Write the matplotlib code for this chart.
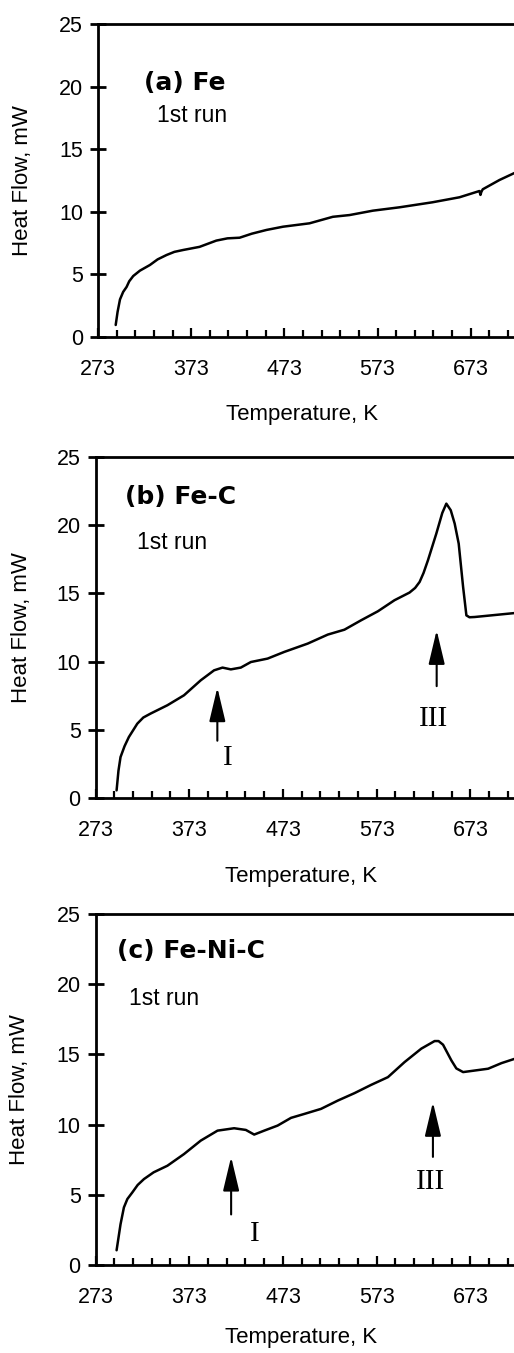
import matplotlib
matplotlib.use("Agg")
import matplotlib.pyplot as plt

# panel (a) Fe
temp_fe = [292, 294, 296.6, 300, 303.7, 306.5, 310.8, 318, 328.7, 337, 346.6, 355, 364.4,
           382, 400, 412, 425, 438, 453.8, 471.6, 500, 525, 543, 568, 596.7, 632,
           661, 682.4, 683.5, 684.5, 686, 703.9, 720]
heat_fe = [0.96, 2.0, 3.0, 3.6, 4.0, 4.45, 4.87, 5.3, 5.75, 6.2, 6.55, 6.8, 6.95,
           7.2, 7.7, 7.88, 7.93, 8.25, 8.55, 8.81, 9.08, 9.6, 9.74, 10.09, 10.36, 10.76,
           11.16, 11.66, 11.35, 11.6, 11.8, 12.54, 13.1]

# panel (b) Fe-C
temp_fec = [295.5, 297.5, 299.7, 304, 308.6, 317.6, 324, 331.8, 349.7, 367.4, 385.3,
            399.5, 408.5, 417.4, 428, 438.8, 456.6, 474.4, 499.4, 520.8, 538.6,
            556.4, 574.3, 592, 608, 614, 618.8, 623, 627.7, 636.6, 643, 647.3, 652,
            656.2, 660.5, 665.2, 668.7, 672, 677.6, 720.4]
heat_fec = [0.56, 2.0, 3.0, 3.8, 4.47, 5.45, 5.9, 6.19, 6.8, 7.53, 8.63,
            9.36, 9.56, 9.43, 9.56, 9.97, 10.22, 10.71, 11.32, 11.98, 12.34,
            13.03, 13.69, 14.5, 15.06, 15.4, 15.84, 16.5, 17.43, 19.38, 20.9, 21.58, 21.1,
            20.12, 18.65, 15.47, 13.39, 13.25, 13.27, 13.56]

# panel (c) Fe-Ni-C
temp_fenic = [295.5, 299.7, 303.3, 307, 312.3, 318, 324.7, 335, 349.7, 367.4, 385.3,
              403.2, 420.9, 433.4, 442.3, 453, 467.3, 481.6, 495.8, 513.6, 531.5,
              549.3, 567.1, 585, 602.7, 620.6, 634.8, 639, 643.8, 652.7, 658, 665.2,
              691.9, 706.2, 720.4]
heat_fenic = [1.05, 2.9, 4.1, 4.7, 5.17, 5.7, 6.12, 6.6, 7.07, 7.9, 8.86,
              9.57, 9.74, 9.62, 9.29, 9.57, 9.93, 10.48, 10.76, 11.12, 11.71,
              12.24, 12.83, 13.38, 14.45, 15.41, 15.95, 15.95, 15.69, 14.57, 14.0, 13.74,
              13.98, 14.38, 14.69]

x_ticks = [273, 373, 473, 573, 673]
y_ticks = [0, 5, 10, 15, 20, 25]

# arrows: (x, tip, tail, label, label_x, label_y)
arrows_fec = [(403, 8.1, 4.2, "I", 414, 2.9), (637, 12.3, 8.2, "III", 634, 5.8)]
arrows_fenic = [(417.7, 7.7, 3.6, "I", 443, 2.2), (633, 11.6, 7.7, "III", 631, 5.9)]

panels = [
    dict(x=temp_fe, y=heat_fe, title="(a) Fe", arrows=[],
         rect=[98 / 514, 1 - 337 / 1353, 1 - 98 / 514, 313 / 1353],
         tpos=(322, 20.3), rpos=(336, 17.7), ylab=-0.156, xlab=-0.214),
    dict(x=temp_fec, y=heat_fec, title="(b) Fe-C", arrows=arrows_fec,
         rect=[95.5 / 514, 1 - 798 / 1353, 1 - 95.5 / 514, 341 / 1353],
         tpos=(304, 22.1), rpos=(317, 18.7), ylab=-0.152, xlab=-0.2),
    dict(x=temp_fenic, y=heat_fenic, title="(c) Fe-Ni-C", arrows=arrows_fenic,
         rect=[95.5 / 514, 1 - 1265 / 1353, 1 - 95.5 / 514, 351 / 1353],
         tpos=(295.5, 22.4), rpos=(309, 19.0), ylab=-0.157, xlab=-0.177),
]

plt.rcParams['font.family'] = ['Liberation Sans', 'DejaVu Sans']

fig = plt.figure(figsize=(5.14, 13.53), dpi=100)

for p in panels:
    ax = fig.add_axes(p["rect"])
    ax.plot(p["x"], p["y"], color="black", lw=1.8, solid_joinstyle="round",
            solid_capstyle="round")
    ax.set_xlim(273, 719.5)
    ax.set_ylim(0, 25)
    ax.spines["right"].set_visible(False)
    for s in ["left", "bottom", "top"]:
        ax.spines[s].set_linewidth(2.0)
    ax.set_xticks(x_ticks)
    ax.set_xticks(range(293, 720, 20), minor=True)
    ax.set_yticks(y_ticks)
    ax.tick_params(axis="x", which="major", direction="in", length=6.5, width=1.6,
                   pad=16, labelsize=15.5)
    ax.tick_params(axis="x", which="minor", direction="in", length=5, width=1.6)
    ax.tick_params(axis="y", which="major", direction="inout", length=11.5, width=2.0,
                   pad=5, labelsize=15.5)
    ax.set_ylabel("Heat Flow, mW", fontsize=16)
    ax.yaxis.set_label_coords(p["ylab"], 0.5)
    ax.set_xlabel("Temperature, K", fontsize=16)
    ax.xaxis.set_label_coords(0.49, p["xlab"])

    ax.text(p["tpos"][0], p["tpos"][1], p["title"], fontsize=18, fontweight="bold",
            family="DejaVu Sans", va="center", ha="left")
    ax.text(p["rpos"][0], p["rpos"][1], "1st run", fontsize=16.5, va="center", ha="left")

    for ax_x, tip, tail, lab, lx, ly in p["arrows"]:
        ax.annotate("", xy=(ax_x, tip), xytext=(ax_x, tail),
                    arrowprops=dict(arrowstyle="-|>,head_length=1.05,head_width=0.25",
                                    mutation_scale=20, lw=1.5, color="black",
                                    shrinkA=0, shrinkB=0))
        ax.text(lx, ly, lab, fontsize=21, family="Liberation Serif",
                ha="center", va="center")

fig.savefig("out.png", dpi=100)
